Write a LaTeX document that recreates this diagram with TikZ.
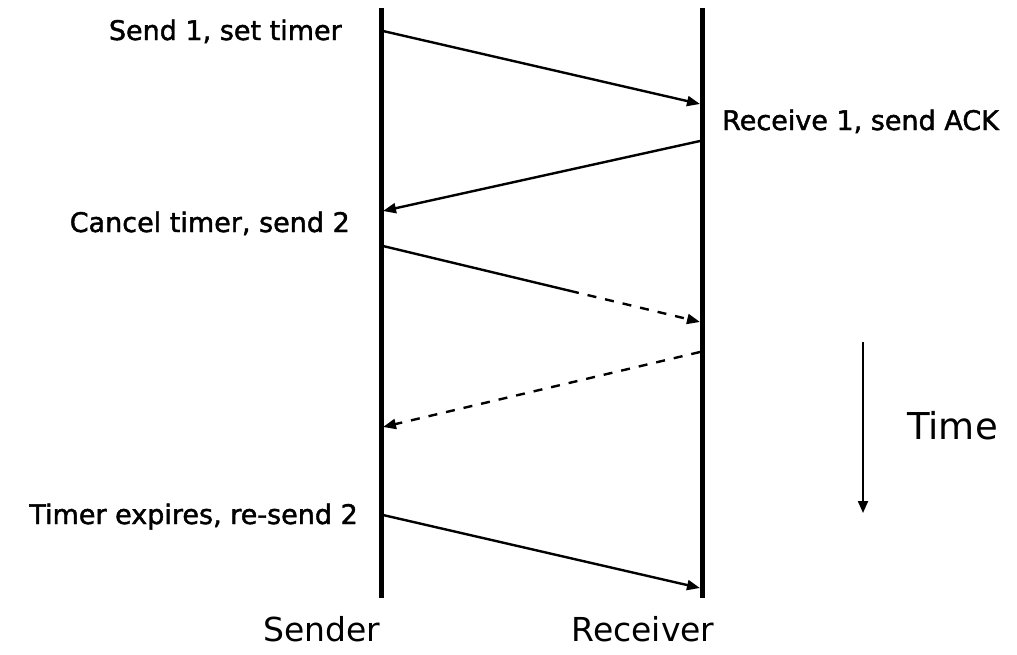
\documentclass[tikz,border=0pt]{standalone}
\usepackage{fontspec}
\setmainfont{DejaVu Sans}
\newfontfamily\lblfont[FakeBold=1.6]{DejaVu Sans}
\usetikzlibrary{arrows.meta,calc}
\begin{document}
\begin{tikzpicture}[x=1pt,y=-1pt,
  life/.style={line width=5pt},
  msg/.style={line width=2.4pt,-{Triangle[length=13pt,width=10pt]}},
  msgplain/.style={line width=2.4pt},
  lbl/.style={inner sep=0pt,font=\lblfont\fontsize{27}{30}\selectfont},
  big/.style={inner sep=0pt,font=\fontsize{33}{36}\selectfont},
  timelbl/.style={inner sep=0pt,font=\fontsize{37}{40}\selectfont}]
\useasboundingbox (0,0) rectangle (1017,654);
% lifelines
\coordinate (sTop) at (381,8);
\coordinate (sBot) at (381,598);
\coordinate (rTop) at (702,8);
\coordinate (rBot) at (702,598);
\draw[life] (sTop) -- (sBot);
\draw[life] (rTop) -- (rBot);
% message points
\coordinate (a1) at (383,31);
\coordinate (b1) at (700,104);
\coordinate (a2) at (700,141);
\coordinate (b2) at (383,211);
\coordinate (a3) at (383,246);
\coordinate (b3) at (700,322);
\coordinate (a4) at (700,352);
\coordinate (b4) at (383,427);
\coordinate (a5) at (383,515);
\coordinate (b5) at (700,588);
\draw[msg] (a1) -- (b1);
\draw[msg] (a2) -- (b2);
\coordinate (m3) at ($(a3)!0.59!(b3)$);
\draw[msgplain] (a3) -- (m3);
\draw[msg,dash pattern=on 9pt off 9pt] (m3) -- (b3);
\draw[msg,dash pattern=on 9pt off 9pt] (a4) -- (b4);
\draw[msg] (a5) -- (b5);
% time arrow
\coordinate (t1) at (863,342);
\coordinate (t2) at (863,513);
\draw[line width=2pt,-{Triangle[length=12pt,width=10pt]}] (t1) -- (t2);
% labels
\node[lbl,anchor=base east] (l1) at (342,40) {Send 1, set timer};
\node[lbl,anchor=base west] (l2) at (722,130) {Receive 1, send ACK};
\node[lbl,anchor=base east] (l3) at (350,232) {Cancel timer, send 2};
\node[lbl,anchor=base east] (l4) at (358,524) {Timer expires, re-send 2};
\node[timelbl,anchor=base west] (tl) at (907,439) {Time};
\node[big,anchor=base] (sn) at (322,641) {Sender};
\node[big,anchor=base] (rn) at (643,641) {Receiver};
\end{tikzpicture}
\end{document}
